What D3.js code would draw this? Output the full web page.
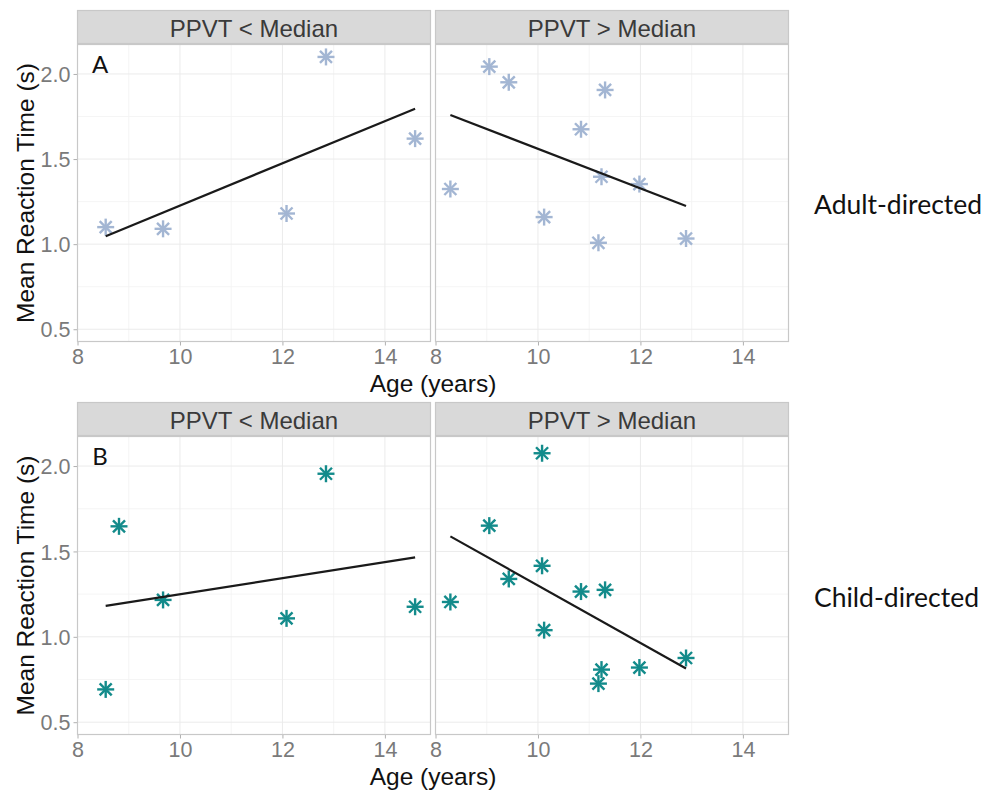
<!DOCTYPE html>
<html>
<head>
<meta charset="utf-8">
<script src="https://cdn.jsdelivr.net/npm/d3@7"></script>
<style>
  html, body { margin: 0; padding: 0; background: #fff; }
  svg { display: block; }
</style>
</head>
<body>
<svg id="chart" width="990" height="792"></svg>
<script>
// ---------------- DATA ----------------
const panelTitles = ["PPVT < Median", "PPVT > Median"];
const rowTitles = ["Adult-directed", "Child-directed"];
const rowLetters = ["A", "B"];
const xTicks = [8, 10, 12, 14];
const yTicks = [0.5, 1.0, 1.5, 2.0];

// Adult-directed, PPVT < Median
const adultLowAge = [8.55, 9.67, 12.08, 12.85, 14.59];
const adultLowRT  = [1.10, 1.09, 1.18, 2.10, 1.62];
const adultLowFit = [[8.55, 1.047], [14.59, 1.796]];

// Adult-directed, PPVT > Median
const adultHighAge = [8.29, 9.05, 9.43, 10.12, 10.84, 11.18, 11.24, 11.31, 11.98, 12.89];
const adultHighRT  = [1.324, 2.043, 1.951, 1.159, 1.675, 1.008, 1.396, 1.906, 1.353, 1.033];
const adultHighFit = [[8.29, 1.759], [12.89, 1.224]];

// Child-directed, PPVT < Median
const childLowAge = [8.55, 8.81, 9.67, 12.08, 12.85, 14.59];
const childLowRT  = [0.692, 1.647, 1.216, 1.108, 1.955, 1.176];
const childLowFit = [[8.55, 1.181], [14.59, 1.465]];

// Child-directed, PPVT > Median
const childHighAge = [8.29, 9.05, 9.43, 10.08, 10.08, 10.12, 10.84, 11.31, 11.24, 11.18, 11.98, 12.89];
const childHighRT  = [1.204, 1.651, 1.339, 2.075, 1.416, 1.039, 1.265, 1.275, 0.808, 0.726, 0.820, 0.876];
const childHighFit = [[8.29, 1.588], [12.89, 0.814]];

const rowColors = ["#a3b6d3", "#138b8b"];

// ---------------- LAYOUT ----------------
const svg = d3.select("#chart");
const panelsX = [[77, 431], [435, 789]];
const rowsY = [{strip: 10, top: 44, bottom: 342}, {strip: 402, top: 436, bottom: 735}];
const xDomain = [7.99, 14.9];
const yDomain = [0.425, 2.176];

const panelData = [
  [{age: adultLowAge, rt: adultLowRT, fit: adultLowFit}, {age: adultHighAge, rt: adultHighRT, fit: adultHighFit}],
  [{age: childLowAge, rt: childLowRT, fit: childLowFit}, {age: childHighAge, rt: childHighRT, fit: childHighFit}]
];

const fontSans = "'Liberation Sans', Arial, Helvetica, sans-serif";
const fontLabel = "Lato, 'Open Sans', sans-serif";

function asterisk(g, cx, cy, r, color) {
  const d = r * Math.SQRT1_2;
  const segs = [[0, -r, 0, r], [-r, 0, r, 0], [-d, -d, d, d], [-d, d, d, -d]];
  segs.forEach(s => {
    g.append("line")
      .attr("x1", cx + s[0]).attr("y1", cy + s[1])
      .attr("x2", cx + s[2]).attr("y2", cy + s[3])
      .attr("stroke", color).attr("stroke-width", 2.4).attr("stroke-linecap", "butt");
  });
}

rowsY.forEach((ry, ri) => {
  const y = d3.scaleLinear().domain(yDomain).range([ry.bottom, ry.top]);
  panelsX.forEach((px, pi) => {
    const x = d3.scaleLinear().domain(xDomain).range([px[0], px[1]]);
    const g = svg.append("g");
    const dat = panelData[ri][pi];

    g.append("rect").attr("x", px[0]).attr("y", ry.top)
      .attr("width", px[1] - px[0]).attr("height", ry.bottom - ry.top)
      .attr("fill", "#fff");

    const xMinor = [9, 11, 13];
    const yMinor = [0.75, 1.25, 1.75];
    g.selectAll(".xminor").data(xMinor).enter().append("line")
      .attr("x1", d => x(d)).attr("x2", d => x(d))
      .attr("y1", ry.top).attr("y2", ry.bottom)
      .attr("stroke", "#f3f3f3").attr("stroke-width", 0.8);
    g.selectAll(".yminor").data(yMinor).enter().append("line")
      .attr("y1", d => y(d)).attr("y2", d => y(d))
      .attr("x1", px[0]).attr("x2", px[1])
      .attr("stroke", "#f3f3f3").attr("stroke-width", 0.8);
    g.selectAll(".xmajor").data(xTicks).enter().append("line")
      .attr("x1", d => x(d)).attr("x2", d => x(d))
      .attr("y1", ry.top).attr("y2", ry.bottom)
      .attr("stroke", "#ebebeb").attr("stroke-width", 1);
    g.selectAll(".ymajor").data(yTicks).enter().append("line")
      .attr("y1", d => y(d)).attr("y2", d => y(d))
      .attr("x1", px[0]).attr("x2", px[1])
      .attr("stroke", "#ebebeb").attr("stroke-width", 1);

    dat.age.forEach((a, i) => asterisk(g, x(a), y(dat.rt[i]), 8.5, rowColors[ri]));

    g.append("path")
      .attr("d", d3.line().x(d => x(d[0])).y(d => y(d[1]))(dat.fit))
      .attr("fill", "none").attr("stroke", "#1a1a1a").attr("stroke-width", 2.2);

    g.append("rect").attr("x", px[0] + 0.5).attr("y", ry.top + 0.5)
      .attr("width", px[1] - px[0] - 1).attr("height", ry.bottom - ry.top - 1)
      .attr("fill", "none").attr("stroke", "#c8c8c8").attr("stroke-width", 1.2);

    g.append("rect").attr("x", px[0] + 0.5).attr("y", ry.strip + 0.5)
      .attr("width", px[1] - px[0] - 1).attr("height", ry.top - ry.strip - 1)
      .attr("fill", "#d9d9d9").attr("stroke", "#c8c8c8").attr("stroke-width", 1.2);
    g.append("text").attr("x", (px[0] + px[1]) / 2).attr("y", (ry.strip + ry.top) / 2 + 1)
      .attr("text-anchor", "middle").attr("dominant-baseline", "central")
      .attr("font-family", fontSans).attr("font-size", 24).attr("fill", "#3a3a3a")
      .text(panelTitles[pi]);

    const xAxis = d3.axisBottom(x).tickValues(xTicks).tickSize(3.5).tickPadding(3).tickFormat(d3.format("d"));
    const xa = g.append("g").attr("transform", `translate(0,${ry.bottom})`).call(xAxis);
    xa.select(".domain").remove();
    xa.selectAll("line").attr("stroke", "#b0b0b0");
    xa.selectAll("text").attr("font-family", fontSans).attr("font-size", 21.5).attr("fill", "#7a7a7a");

    if (pi === 0) {
      const yAxis = d3.axisLeft(y).tickValues(yTicks).tickSize(3.5).tickPadding(3).tickFormat(d3.format(".1f"));
      const ya = g.append("g").attr("transform", `translate(${px[0]},0)`).call(yAxis);
      ya.select(".domain").remove();
      ya.selectAll("line").attr("stroke", "#b0b0b0");
      ya.selectAll("text").attr("font-family", fontSans).attr("font-size", 21.5).attr("fill", "#7a7a7a")
        .attr("dy", "0.36em");

      g.append("text").attr("x", 100).attr("y", ry.top + 19)
        .attr("text-anchor", "middle").attr("dominant-baseline", "central")
        .attr("font-family", fontLabel).attr("font-size", 24).attr("fill", "#111")
        .text(rowLetters[ri]);
    }
  });

  const cy = (ry.top + ry.bottom) / 2;
  svg.append("text").attr("transform", `translate(25,${cy}) rotate(-90)`)
    .attr("text-anchor", "middle").attr("dominant-baseline", "central")
    .attr("font-family", fontSans).attr("font-size", 24.5).attr("fill", "#111")
    .text("Mean Reaction Time (s)");

  svg.append("text").attr("x", (panelsX[0][0] + panelsX[1][1]) / 2).attr("y", ry.bottom + 41)
    .attr("text-anchor", "middle").attr("dominant-baseline", "central")
    .attr("font-family", fontSans).attr("font-size", 24.5).attr("fill", "#111")
    .text("Age (years)");

  svg.append("text").attr("x", 814).attr("y", [204, 597][ri])
    .attr("text-anchor", "start").attr("dominant-baseline", "central")
    .attr("font-family", fontLabel).attr("font-size", 26.5).attr("fill", "#111")
    .text(rowTitles[ri]);
});
</script>
</body>
</html>
